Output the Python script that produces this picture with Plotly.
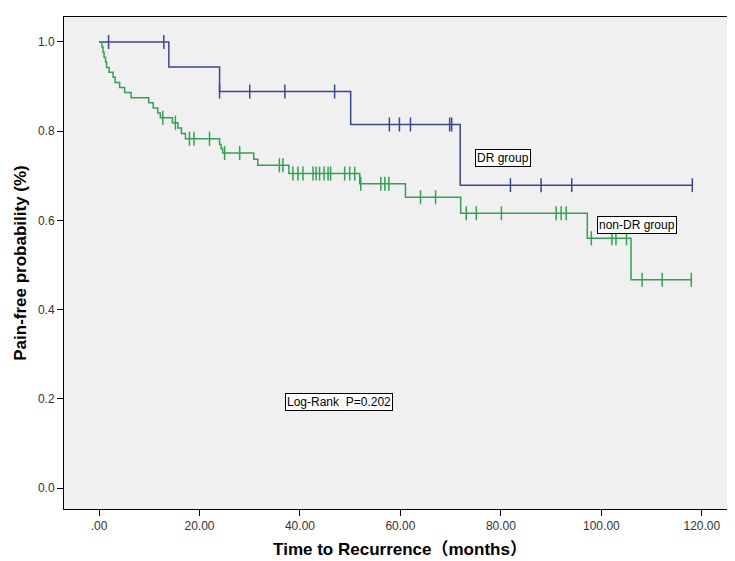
import numpy as np
import plotly.graph_objects as go

# DR group Kaplan-Meier steps
dr_time = [0, 13.9, 24.0, 50.1, 71.9, 118.1]
dr_surv = [1.0, 0.944, 0.889, 0.815, 0.679, 0.679]
dr_cens = [1.9, 12.9, 24.0, 30.0, 37.0, 46.9, 57.8, 59.8, 62.0, 69.8, 70.2,
           81.9, 88.0, 94.1, 118.1]

# non-DR group Kaplan-Meier steps
nd_time = [0, 0.6, 0.8, 1.0, 1.3, 1.5, 2.0, 2.8, 3.2, 4.1, 5.1, 6.4, 9.9, 10.8,
           11.7, 12.2, 14.6, 15.7, 16.4, 17.2, 24.0, 24.3, 24.6, 30.8, 31.6,
           37.8, 51.9, 61.0, 72.0, 97.2, 105.9, 118.0]
nd_surv = [1.0, 0.989, 0.977, 0.966, 0.955, 0.943, 0.932, 0.921, 0.909, 0.898,
           0.887, 0.875, 0.864, 0.852, 0.841, 0.830, 0.819, 0.807, 0.795, 0.783,
           0.770, 0.761, 0.751, 0.737, 0.7235, 0.705, 0.682, 0.652, 0.616,
           0.560, 0.467, 0.467]
nd_cens = [12.7, 15.2, 18.0, 18.9, 22.0, 25.0, 28.0, 35.9, 36.6, 38.6, 39.6,
           40.6, 42.6, 43.2, 43.9, 44.8, 45.6, 46.1, 48.9, 49.9, 50.9, 52.1,
           56.1, 56.9, 57.7, 64.0, 67.0, 73.1, 75.1, 80.1, 91.0, 92.0, 93.0,
           98.0, 102.1, 102.9, 105.0, 108.1, 112.1, 117.9]

x_ticks = [0, 20, 40, 60, 80, 100, 120]
x_tick_text = [".00", "20.00", "40.00", "60.00", "80.00", "100.00", "120.00"]
y_ticks = [0, 0.2, 0.4, 0.6, 0.8, 1.0]
y_tick_text = ["0.0", "0.2", "0.4", "0.6", "0.8", "1.0"]


def level_at(times, survs, t):
    idx = np.searchsorted(np.array(times), t, side="right") - 1
    return [survs[i] for i in idx]


BLUE = "#3a4599"
GREEN = "#2fa352"

fig = go.Figure()
fig.add_trace(go.Scatter(x=dr_time, y=dr_surv, mode="lines", line_shape="hv",
                         line=dict(color=BLUE, width=1.5), showlegend=False))
fig.add_trace(go.Scatter(x=nd_time, y=nd_surv, mode="lines", line_shape="hv",
                         line=dict(color=GREEN, width=1.5), showlegend=False))
fig.add_trace(go.Scatter(x=dr_cens, y=level_at(dr_time, dr_surv, dr_cens), mode="markers",
                         marker=dict(symbol="line-ns", size=10,
                                     line=dict(color=BLUE, width=1.5)),
                         showlegend=False))
fig.add_trace(go.Scatter(x=nd_cens, y=level_at(nd_time, nd_surv, nd_cens), mode="markers",
                         marker=dict(symbol="line-ns", size=10,
                                     line=dict(color=GREEN, width=1.5)),
                         showlegend=False))

box = dict(showarrow=False, bgcolor="white", bordercolor="black", borderwidth=1,
           borderpad=1, font=dict(family="Liberation Sans, Arial", size=12, color="black"))
fig.add_annotation(x=80.4, y=0.74, text="DR group", **box)
fig.add_annotation(x=107, y=0.589, text="non-DR group", **box)
fig.add_annotation(x=47.8, y=0.193, text="Log-Rank  P=0.202", **box)

axis_common = dict(showgrid=False, zeroline=False, showline=True, linecolor="black",
                   linewidth=1, mirror=True, ticks="outside", ticklen=6,
                   tickcolor="black",
                   tickfont=dict(family="Liberation Sans, Arial", size=12, color="#333333"))

fig.update_xaxes(range=[-6.97, 126.8], tickvals=x_ticks, ticktext=x_tick_text,
                 title=dict(text="<b>Time to Recurrence（months）</b>",
                            font=dict(family="Liberation Sans, Noto Sans CJK SC", size=17,
                                      color="black"), standoff=10),
                 **axis_common)
fig.update_yaxes(range=[-0.047, 1.056], tickvals=y_ticks, ticktext=y_tick_text,
                 title=dict(text="<b>Pain-free probability (%)</b>",
                            font=dict(family="Liberation Sans, Arial", size=17,
                                      color="black"), standoff=6),
                 **axis_common)

fig.update_layout(width=735, height=561,
                  margin=dict(l=56, r=7, t=9, b=60),
                  paper_bgcolor="white", plot_bgcolor="#f0f0f0")

fig.write_html("out.html")
